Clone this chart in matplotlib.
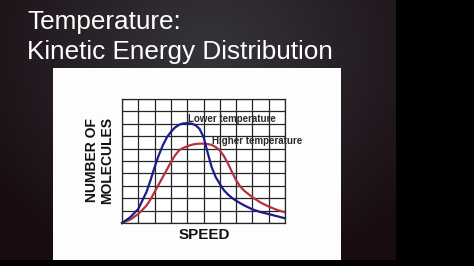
import numpy as np
import matplotlib
matplotlib.use("Agg")
import matplotlib.pyplot as plt
from matplotlib.patches import Rectangle

# speed positions (grid units) and curve heights
speed = [0, 0.5, 1, 1.5, 1.75, 2, 2.25, 2.5, 2.75, 3, 3.25, 3.5, 3.75, 4, 4.25, 4.5, 4.75,
         5, 5.25, 5.5, 5.75, 6, 6.25, 6.5, 6.75, 7, 7.25, 7.5, 8, 8.5, 9, 9.5, 10]
lower_temp = [0, 0.46, 1.13, 2.5, 3.45, 4.5, 5.45, 6.25, 6.9, 7.35, 7.7, 7.92, 8.03, 8.05, 8.02, 7.9, 7.6,
              6.95, 5.7, 4.5, 3.7, 3.15, 2.65, 2.3, 2.02, 1.8, 1.6, 1.42, 1.1, 0.88, 0.72, 0.55, 0.38]
higher_temp = [0, 0.27, 0.73, 1.4, 1.9, 2.5, 3.1, 3.7, 4.3, 4.9, 5.45, 5.85, 6.05, 6.18, 6.3, 6.37, 6.4,
               6.4, 6.37, 6.3, 6.12, 5.85, 5.4, 4.8, 4.1, 3.45, 2.95, 2.6, 2.08, 1.65, 1.33, 1.06, 0.86]

title_lines = ["Temperature:", "Kinetic Energy Distribution"]

W, H = 474, 266
fig = plt.figure(figsize=(W / 100, H / 100), dpi=100)
fig.patch.set_facecolor("black")

# dark slide background with soft vignette
bg = fig.add_axes([0, 0, 1, 1])
yy, xx = np.mgrid[0:H, 0:W]
r = np.sqrt(((xx - 210) / 270.0) ** 2 + ((yy - 50) / 230.0) ** 2)
t = np.clip(r, 0, 1)[..., None]
center = np.array([54, 53, 58]) / 255.0
edge = np.array([24, 12, 18]) / 255.0
img = center * (1 - t) + edge * t
img[:, 396:] = 0
img[260:, :] = 0
bg.imshow(img, extent=[0, W, H, 0], aspect="auto")
bg.set_xlim(0, W)
bg.set_ylim(H, 0)
bg.axis("off")

# white picture panel
fig.patches.append(Rectangle((53 / W, 1 - 260 / H), (341 - 53) / W, (260 - 68) / H,
                             transform=fig.transFigure, facecolor="#fdfdfd", edgecolor="none", zorder=1))

fig.text(27 / W, 1 - 29 / H, title_lines[0], color="white", fontsize=18.8,
         family="Liberation Sans", va="baseline", ha="left")
fig.text(27 / W, 1 - 59 / H, title_lines[1], color="white", fontsize=18.8,
         family="Liberation Sans", va="baseline", ha="left")

ax = fig.add_axes([122 / W, 1 - 223 / H, (285 - 122) / W, (223 - 99) / H])
ax.set_zorder(2)
ax.set_facecolor("white")
ax.set_xlim(0, 10)
ax.set_ylim(0, 10)
ax.set_xticks(range(11))
ax.set_yticks(range(11))
ax.tick_params(length=0, labelbottom=False, labelleft=False)
ax.grid(True, color="#262626", linewidth=0.9)
for s in ax.spines.values():
    s.set_color("#262626")
    s.set_linewidth(0.9)

ax.plot(speed, higher_temp, color="#b3323f", linewidth=1.6, clip_on=False, solid_joinstyle="round")
ax.plot(speed, lower_temp, color="#1c1a8f", linewidth=1.6, clip_on=False, solid_joinstyle="round")

ax.text(4.05, 8.35, "Lower temperature", fontsize=7, fontweight="bold",
        color="#2a2a2a", family="Liberation Sans", va="center", ha="left")
ax.text(5.52, 6.65, "Higher temperature", fontsize=7, fontweight="bold",
        color="#2a2a2a", family="Liberation Sans", va="center", ha="left", clip_on=False)

fig.text(100 / W, 1 - 160 / H, "NUMBER OF\nMOLECULES", rotation=90, fontsize=10,
         fontweight="bold", family="Liberation Sans", color="#111111",
         ha="center", va="center", linespacing=1.1, zorder=3)
fig.text(204 / W, 1 - 235 / H, "SPEED", fontsize=11, fontweight="bold",
         family="Liberation Sans", color="#111111", ha="center", va="center", zorder=3)

fig.savefig("out.png", dpi=100, facecolor="black")
